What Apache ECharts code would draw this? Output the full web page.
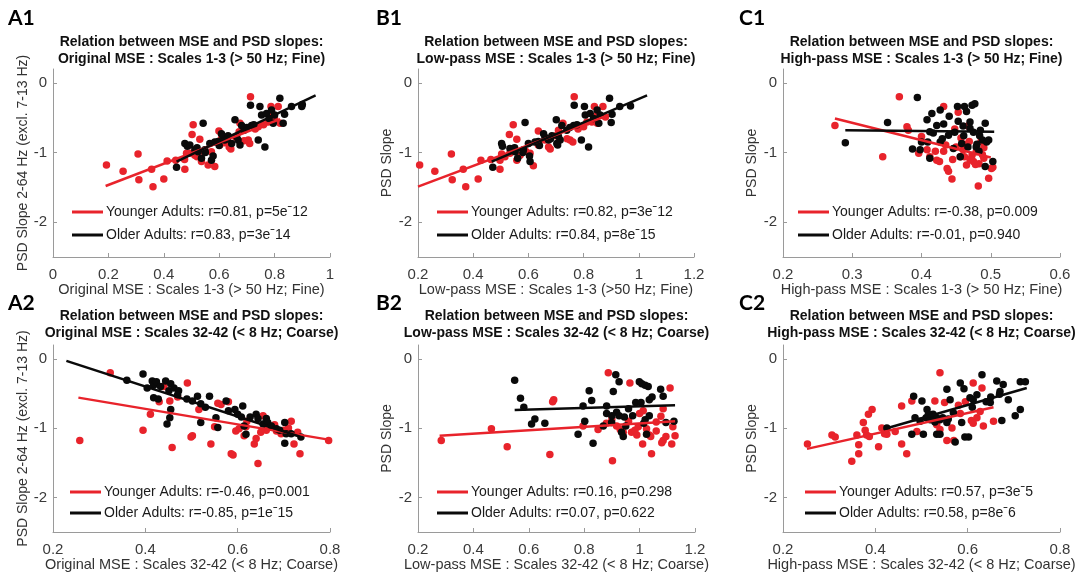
<!DOCTYPE html>
<html>
<head>
<meta charset="utf-8">
<title>MSE vs PSD slopes</title>
<script src="https://cdn.jsdelivr.net/npm/echarts@6/dist/echarts.min.js"></script>
<style>
  html, body { margin: 0; padding: 0; background: #fff; }
  #main { width: 1079px; height: 574px; }
</style>
</head>
<body>
<div id="main"></div>
<script>
// ---- data ----
var yTicks = [-2, -1, 0];
var a1XTicks = [0, 0.2, 0.4, 0.6, 0.8, 1];
var b1XTicks = [0.2, 0.4, 0.6, 0.8, 1, 1.2];
var c1XTicks = [0.2, 0.3, 0.4, 0.5, 0.6];
var a2XTicks = [0.2, 0.4, 0.6, 0.8];
var b2XTicks = [0.2, 0.4, 0.6, 0.8, 1, 1.2];
var c2XTicks = [0.2, 0.4, 0.6, 0.8];

var titles = [
  'Relation between MSE and PSD slopes:\nOriginal MSE : Scales 1-3 (> 50 Hz; Fine)',
  'Relation between MSE and PSD slopes:\nLow-pass MSE : Scales 1-3 (> 50 Hz; Fine)',
  'Relation between MSE and PSD slopes:\nHigh-pass MSE : Scales 1-3 (> 50 Hz; Fine)',
  'Relation between MSE and PSD slopes:\nOriginal MSE : Scales 32-42 (< 8 Hz; Coarse)',
  'Relation between MSE and PSD slopes:\nLow-pass MSE : Scales 32-42 (< 8 Hz; Coarse)',
  'Relation between MSE and PSD slopes:\nHigh-pass MSE : Scales 32-42 (< 8 Hz; Coarse)'
];
var xNames = [
  'Original MSE : Scales 1-3 (> 50 Hz; Fine)',
  'Low-pass MSE : Scales 1-3 (>50 Hz; Fine)',
  'High-pass MSE : Scales 1-3 (> 50 Hz; Fine)',
  'Original MSE : Scales 32-42 (< 8 Hz; Coarse)',
  'Low-pass MSE : Scales 32-42 (< 8 Hz; Coarse)',
  'High-pass MSE : Scales 32-42 (< 8 Hz; Coarse)'
];
var yNames = ['PSD Slope 2-64 Hz (excl. 7-13 Hz)', 'PSD Slope', 'PSD Slope',
  'PSD Slope 2-64 Hz (excl. 7-13 Hz)', 'PSD Slope', 'PSD Slope'];
var panelLabels = ['A1', 'B1', 'C1', 'A2', 'B2', 'C2'];
var youngLegend = [
  'Younger Adults: r=0.81, p=5e\u02C912',
  'Younger Adults: r=0.82, p=3e\u02C912',
  'Younger Adults: r=-0.38, p=0.009',
  'Younger Adults: r=-0.46, p=0.001',
  'Younger Adults: r=0.16, p=0.298',
  'Younger Adults: r=0.57, p=3e\u02C95'
];
var oldLegend = [
  'Older Adults: r=0.83, p=3e\u02C914',
  'Older Adults: r=0.84, p=8e\u02C915',
  'Older Adults: r=-0.01, p=0.940',
  'Older Adults: r=-0.85, p=1e\u02C915',
  'Older Adults: r=0.07, p=0.622',
  'Older Adults: r=0.58, p=8e\u02C96'
];

// A1
var a1Young = [[0.193,-1.18],[0.253,-1.27],[0.307,-1.02],[0.31,-1.39],[0.356,-1.24],[0.361,-1.49],[0.40,-1.38],[0.412,-1.12],[0.443,-1.11],[0.476,-1.24],[0.482,-1.01],[0.506,-0.60],[0.502,-0.74],[0.53,-0.81],[0.494,-1.01],[0.512,-1.04],[0.536,-1.13],[0.545,-0.99],[0.584,-1.20],[0.572,-0.99],[0.599,-0.69],[0.602,-0.89],[0.608,-0.80],[0.642,-0.95],[0.636,-0.92],[0.675,-0.58],[0.672,-0.70],[0.705,-0.82],[0.71,-0.87],[0.713,-0.20],[0.741,-0.63],[0.777,-0.56],[0.787,-0.34],[0.813,-0.34],[0.795,-0.46],[0.82,-0.58],[0.76,-0.60],[0.56,-1.18],[0.62,-0.86],[0.66,-0.78],[0.73,-0.66],[0.80,-0.52],[0.475,-1.10],[0.52,-1.06],[0.69,-0.83]];
var a1Old = [[0.446,-1.21],[0.476,-0.87],[0.485,-0.91],[0.494,-0.89],[0.512,-0.96],[0.524,-0.99],[0.536,-1.08],[0.542,-0.58],[0.548,-0.96],[0.566,-0.87],[0.572,-1.11],[0.578,-1.05],[0.584,-0.85],[0.596,-0.84],[0.608,-0.73],[0.614,-0.78],[0.620,-0.82],[0.632,-0.76],[0.645,-0.87],[0.657,-0.53],[0.663,-0.77],[0.668,-0.82],[0.675,-0.89],[0.681,-0.61],[0.69,-0.68],[0.713,-0.32],[0.717,-0.61],[0.725,-0.60],[0.741,-0.82],[0.747,-0.34],[0.753,-0.46],[0.765,-0.92],[0.771,-0.44],[0.78,-0.51],[0.789,-0.39],[0.795,-0.58],[0.80,-0.46],[0.819,-0.22],[0.831,-0.58],[0.836,-0.45],[0.861,-0.34],[0.898,-0.34],[0.90,-0.31],[0.52,-0.93],[0.60,-0.90],[0.70,-0.64],[0.63,-0.80],[0.55,-1.00]];
var a1YoungFit = [[0.19,-1.48],[0.82,-0.52]];
var a1OldFit = [[0.446,-1.13],[0.948,-0.18]];

// B1
var b1Young = [[0.206,-1.18],[0.261,-1.27],[0.321,-1.02],[0.324,-1.39],[0.364,-1.24],[0.373,-1.49],[0.418,-1.38],[0.428,-1.11],[0.464,-1.10],[0.497,-1.24],[0.503,-1.02],[0.545,-0.60],[0.531,-0.74],[0.558,-0.81],[0.533,-1.01],[0.558,-1.11],[0.570,-1.04],[0.618,-1.19],[0.606,-1.01],[0.636,-0.69],[0.636,-0.89],[0.679,-0.95],[0.673,-0.92],[0.725,-0.58],[0.709,-0.68],[0.751,-0.82],[0.761,-0.85],[0.766,-0.20],[0.800,-0.63],[0.839,-0.34],[0.870,-0.34],[0.849,-0.46],[0.812,-0.56],[0.879,-0.49],[0.497,-1.11],[0.59,-0.98],[0.66,-0.82],[0.70,-0.76],[0.78,-0.66],[0.83,-0.56],[0.515,-1.06],[0.74,-0.80],[0.85,-0.58]];
var b1Old = [[0.471,-1.21],[0.503,-0.87],[0.506,-0.91],[0.533,-0.94],[0.552,-0.99],[0.561,-1.08],[0.588,-0.57],[0.582,-0.96],[0.600,-0.87],[0.606,-1.13],[0.604,-1.05],[0.624,-0.85],[0.636,-0.84],[0.655,-0.73],[0.660,-0.78],[0.673,-0.82],[0.685,-0.76],[0.703,-0.87],[0.701,-0.53],[0.709,-0.77],[0.715,-0.82],[0.706,-0.89],[0.721,-0.61],[0.739,-0.68],[0.766,-0.32],[0.764,-0.61],[0.776,-0.60],[0.792,-0.82],[0.803,-0.34],[0.806,-0.46],[0.818,-0.92],[0.824,-0.44],[0.836,-0.51],[0.849,-0.39],[0.855,-0.58],[0.860,-0.46],[0.894,-0.22],[0.900,-0.57],[0.903,-0.45],[0.931,-0.34],[0.970,-0.33],[0.55,-0.93],[0.64,-0.90],[0.75,-0.64],[0.68,-0.80],[0.58,-1.00]];
var b1YoungFit = [[0.2,-1.49],[0.891,-0.46]];
var b1OldFit = [[0.467,-1.13],[1.03,-0.18]];

// C1
var c1Young = [[0.275,-0.61],[0.368,-0.20],[0.344,-1.06],[0.379,-0.63],[0.381,-0.68],[0.396,-1.01],[0.40,-0.77],[0.408,-0.96],[0.412,-1.06],[0.422,-1.11],[0.426,-1.13],[0.432,-0.34],[0.435,-0.89],[0.432,-0.98],[0.437,-1.23],[0.439,-1.27],[0.444,-1.38],[0.448,-0.66],[0.450,-0.92],[0.453,-0.42],[0.457,-0.79],[0.460,-0.96],[0.462,-1.06],[0.465,-1.18],[0.467,-0.62],[0.469,-0.84],[0.473,-1.04],[0.475,-1.13],[0.479,-0.99],[0.482,-1.48],[0.483,-1.16],[0.486,-0.84],[0.488,-1.03],[0.490,-1.08],[0.497,-1.37],[0.501,-1.23],[0.503,-1.21],[0.456,-1.06],[0.462,-0.88],[0.47,-1.10],[0.49,-0.93],[0.445,-1.10],[0.42,-0.98],[0.478,-1.17]];
var c1Old = [[0.29,-0.86],[0.351,-0.57],[0.394,-0.21],[0.387,-0.95],[0.398,-0.96],[0.40,-0.85],[0.409,-0.85],[0.408,-0.53],[0.412,-1.08],[0.415,-0.44],[0.417,-0.72],[0.422,-0.61],[0.427,-0.39],[0.427,-0.85],[0.432,-0.59],[0.439,-0.75],[0.446,-0.94],[0.448,-0.71],[0.452,-0.34],[0.453,-0.55],[0.458,-0.87],[0.456,-1.06],[0.461,-0.76],[0.462,-0.34],[0.465,-0.41],[0.467,-0.92],[0.470,-0.56],[0.473,-0.32],[0.475,-0.71],[0.477,-0.30],[0.479,-0.92],[0.483,-0.98],[0.484,-0.76],[0.488,-0.82],[0.492,-0.58],[0.494,-0.85],[0.497,-0.82],[0.492,-1.20],[0.503,-1.13],[0.412,-0.70],[0.47,-0.65],[0.44,-0.48],[0.46,-0.62],[0.48,-0.88],[0.43,-0.80],[0.485,-0.68]];
var c1YoungFit = [[0.275,-0.51],[0.50,-1.07]];
var c1OldFit = [[0.29,-0.68],[0.505,-0.70]];

// A2
var a2Young = [[0.258,-1.18],[0.324,-0.20],[0.395,-1.03],[0.411,-0.80],[0.458,-1.28],[0.453,-0.61],[0.491,-0.35],[0.502,-1.11],[0.499,-1.13],[0.542,-1.23],[0.564,-0.66],[0.557,-0.64],[0.516,-0.73],[0.586,-1.37],[0.590,-1.39],[0.596,-1.04],[0.603,-1.01],[0.614,-1.11],[0.618,-0.98],[0.636,-1.23],[0.640,-1.15],[0.644,-1.51],[0.655,-0.82],[0.662,-1.03],[0.665,-0.97],[0.684,-1.04],[0.694,-1.08],[0.700,-1.03],[0.716,-0.90],[0.722,-1.23],[0.730,-1.06],[0.735,-1.37],[0.797,-1.18],[0.47,-0.55],[0.44,-0.40],[0.62,-0.90],[0.58,-0.62],[0.68,-0.95],[0.71,-1.00],[0.55,-0.98],[0.65,-1.06],[0.43,-0.62]];
var a2Old = [[0.36,-0.31],[0.395,-0.22],[0.404,-0.42],[0.415,-0.32],[0.418,-0.38],[0.424,-0.33],[0.418,-0.56],[0.428,-0.58],[0.433,-0.40],[0.444,-0.32],[0.451,-0.46],[0.455,-0.36],[0.462,-0.42],[0.472,-0.46],[0.455,-0.73],[0.453,-0.85],[0.447,-0.94],[0.502,-0.61],[0.513,-0.54],[0.520,-0.65],[0.530,-0.70],[0.539,-0.54],[0.520,-0.92],[0.553,-0.85],[0.557,-0.99],[0.575,-0.61],[0.594,-0.73],[0.600,-0.80],[0.611,-0.68],[0.608,-0.84],[0.614,-0.97],[0.618,-1.09],[0.627,-0.84],[0.640,-0.80],[0.644,-0.86],[0.655,-0.94],[0.662,-0.86],[0.665,-0.92],[0.673,-0.97],[0.684,-1.01],[0.691,-1.03],[0.702,-0.92],[0.705,-1.08],[0.716,-1.08],[0.702,-1.22],[0.737,-1.13],[0.58,-0.75],[0.49,-0.58],[0.47,-0.52]];
var a2YoungFit = [[0.255,-0.56],[0.80,-1.17]];
var a2OldFit = [[0.229,-0.03],[0.742,-1.14]];

// B2
var b2Young = [[0.284,-1.18],[0.465,-1.01],[0.522,-1.27],[0.690,-0.59],[0.686,-0.62],[0.676,-1.38],[0.887,-0.20],[0.902,-1.47],[0.965,-0.35],[0.880,-0.93],[0.917,-0.97],[0.941,-1.06],[0.971,-1.06],[0.983,-1.03],[0.995,-0.98],[1.013,-0.75],[1.025,-1.01],[1.035,-1.10],[1.011,-1.23],[1.043,-1.37],[1.06,-0.91],[1.077,-0.83],[1.085,-1.18],[1.110,-0.42],[1.085,-0.72],[1.116,-1.23],[1.128,-1.11],[0.796,-0.97],[0.90,-0.87],[0.96,-0.90],[1.04,-1.12],[1.08,-1.21],[1.095,-1.12],[0.85,-1.02],[0.99,-1.10],[1.00,-0.79],[1.06,-1.04],[0.93,-1.02],[1.12,-0.98]];
var b2Old = [[0.549,-0.31],[0.570,-0.57],[0.582,-0.70],[0.610,-0.94],[0.622,-0.87],[0.658,-0.93],[0.778,-1.09],[0.802,-0.90],[0.796,-0.68],[0.818,-0.46],[0.827,-0.60],[0.832,-1.22],[0.869,-0.97],[0.881,-0.68],[0.881,-0.79],[0.899,-0.92],[0.905,-0.47],[0.914,-0.23],[0.926,-0.33],[0.917,-0.77],[0.926,-0.82],[0.935,-1.06],[0.941,-1.12],[0.945,-0.84],[0.950,-0.97],[0.975,-0.82],[0.986,-0.63],[0.999,-0.33],[1.008,-0.36],[1.020,-0.38],[1.031,-0.40],[1.015,-0.93],[1.025,-1.09],[1.020,-0.88],[1.035,-0.82],[1.035,-0.59],[1.045,-0.55],[1.076,-0.44],[1.085,-0.54],[1.095,-0.92],[1.124,-0.90],[1.005,-0.63],[0.96,-0.72],[0.90,-0.82]];
var b2YoungFit = [[0.278,-1.11],[1.128,-0.90]];
var b2OldFit = [[0.549,-0.74],[1.128,-0.67]];

// C2
var c2Young = [[0.253,-1.23],[0.306,-1.10],[0.313,-1.13],[0.349,-1.48],[0.364,-1.24],[0.364,-1.37],[0.374,-0.92],[0.378,-1.03],[0.385,-0.80],[0.393,-0.73],[0.381,-1.10],[0.387,-1.12],[0.407,-1.27],[0.414,-1.00],[0.425,-1.09],[0.443,-1.05],[0.457,-1.23],[0.457,-0.68],[0.468,-1.37],[0.479,-0.61],[0.540,-0.20],[0.529,-0.61],[0.533,-0.95],[0.540,-1.02],[0.555,-1.18],[0.566,-1.00],[0.570,-1.18],[0.584,-0.79],[0.612,-0.35],[0.608,-0.89],[0.620,-0.85],[0.631,-0.42],[0.627,-0.76],[0.634,-0.97],[0.612,-0.93],[0.656,-0.90],[0.58,-0.67],[0.595,-0.62],[0.49,-1.05],[0.42,-1.08],[0.36,-1.10],[0.55,-0.63]];
var c2Old = [[0.425,-1.00],[0.479,-1.09],[0.483,-0.54],[0.486,-0.85],[0.501,-0.61],[0.504,-1.09],[0.512,-0.73],[0.510,-0.85],[0.519,-0.88],[0.525,-0.80],[0.529,-0.91],[0.533,-1.09],[0.540,-0.88],[0.546,-0.85],[0.555,-0.44],[0.558,-0.87],[0.562,-0.59],[0.573,-1.20],[0.584,-0.35],[0.587,-0.92],[0.592,-0.43],[0.602,-1.13],[0.605,-0.56],[0.612,-0.59],[0.620,-0.52],[0.631,-0.23],[0.640,-0.62],[0.649,-0.63],[0.663,-0.32],[0.670,-0.47],[0.669,-0.51],[0.674,-0.89],[0.677,-0.37],[0.688,-0.59],[0.703,-0.82],[0.714,-0.73],[0.714,-0.33],[0.725,-0.33],[0.569,-0.78],[0.594,-1.13],[0.497,-0.90],[0.515,-0.80],[0.54,-1.09],[0.533,-0.85],[0.555,-0.92],[0.61,-0.70],[0.65,-0.55]];
var c2YoungFit = [[0.252,-1.30],[0.656,-0.70]];
var c2OldFit = [[0.421,-1.01],[0.728,-0.42]];

// ---- layout ----
var FONT = 'Liberation Sans';
var RED = '#e8232b';
var BLACK = '#0a0a0a';

var youngSets = [a1Young, b1Young, c1Young, a2Young, b2Young, c2Young];
var oldSets = [a1Old, b1Old, c1Old, a2Old, b2Old, c2Old];
var youngFits = [a1YoungFit, b1YoungFit, c1YoungFit, a2YoungFit, b2YoungFit, c2YoungFit];
var oldFits = [a1OldFit, b1OldFit, c1OldFit, a2OldFit, b2OldFit, c2OldFit];
var xTickSets = [a1XTicks, b1XTicks, c1XTicks, a2XTicks, b2XTicks, c2XTicks];

// grid boxes in px: left, top, width, height
var boxes = [
  [53, 69, 277, 188], [418, 69, 276, 188], [783, 69, 277, 188],
  [53, 345, 277, 187], [418, 345, 277, 187], [783, 345, 277, 187]
];
var legendLeft = [67, 432, 793, 65, 432, 800];
var yNameGap = [20, 24, 24, 20, 24, 24];

var myChart = echarts.init(document.getElementById('main'));

var grids = [], xAxes = [], yAxes = [], series = [], legends = [], graphics = [];

for (var i = 0; i < 6; i++) {
  var b = boxes[i];
  var row2 = i >= 3;
  var ticks = xTickSets[i];
  grids.push({ left: b[0], top: b[1], width: b[2], height: b[3], containLabel: false });

  xAxes.push({
    type: 'value', gridIndex: i,
    min: ticks[0], max: ticks[ticks.length - 1],
    name: xNames[i], nameLocation: 'middle', nameGap: row2 ? 23 : 22,
    nameTextStyle: { fontFamily: FONT, fontSize: 14.5, color: '#333' },
    axisLine: { show: true, onZero: false, lineStyle: { color: '#9a9a9a', width: 1 } },
    axisTick: { show: true, inside: true, length: 4, customValues: ticks, lineStyle: { color: '#9a9a9a' } },
    axisLabel: { customValues: ticks, fontFamily: FONT, fontSize: 15, color: '#3a3a3a', margin: 10 },
    splitLine: { show: false }
  });
  yAxes.push({
    type: 'value', gridIndex: i, min: -2.5, max: 0.2,
    name: yNames[i], nameLocation: 'middle', nameGap: yNameGap[i],
    nameTextStyle: { fontFamily: FONT, fontSize: 14, color: '#333' },
    axisLine: { show: true, onZero: false, lineStyle: { color: '#9a9a9a', width: 1 } },
    axisTick: { show: true, inside: true, length: 4, customValues: yTicks, lineStyle: { color: '#9a9a9a' } },
    axisLabel: { customValues: yTicks, fontFamily: FONT, fontSize: 15, color: '#3a3a3a', margin: 6 },
    splitLine: { show: false }
  });

  series.push({
    type: 'scatter', name: 'young' + i, xAxisIndex: i, yAxisIndex: i,
    data: youngSets[i], symbolSize: 7.5, itemStyle: { color: RED, opacity: 1 }, silent: true
  });
  series.push({
    type: 'line', name: youngLegend[i], xAxisIndex: i, yAxisIndex: i,
    data: youngFits[i], symbol: 'none', color: RED,
    lineStyle: { color: RED, width: 2.5 }, silent: true
  });
  series.push({
    type: 'scatter', name: 'old' + i, xAxisIndex: i, yAxisIndex: i,
    data: oldSets[i], symbolSize: 7.5, itemStyle: { color: BLACK, opacity: 1 }, silent: true
  });
  series.push({
    type: 'line', name: oldLegend[i], xAxisIndex: i, yAxisIndex: i,
    data: oldFits[i], symbol: 'none', color: BLACK,
    lineStyle: { color: BLACK, width: 2.5 }, silent: true
  });

  legends.push({
    orient: 'vertical', left: legendLeft[i], top: row2 ? 480 : 200,
    icon: 'rect', itemWidth: 31, itemHeight: 3, itemGap: row2 ? 7 : 9,
    selectedMode: false,
    data: [youngLegend[i], oldLegend[i]],
    textStyle: { fontFamily: FONT, fontSize: 14, color: '#1a1a1a', padding: [0, 0, 0, -2] }
  });

  // two-line bold title above each panel
  graphics.push({
    type: 'text', x: b[0] + b[2] / 2, y: row2 ? 308 : 34,
    style: {
      text: titles[i], textAlign: 'center', textVerticalAlign: 'top',
      font: 'bold 14px "' + FONT + '"', lineHeight: 17, fill: '#111'
    }
  });
  // panel letter
  graphics.push({
    type: 'text', x: [8, 376, 739, 8, 376, 739][i], y: row2 ? 293 : 8,
    style: {
      text: panelLabels[i], textAlign: 'left', textVerticalAlign: 'top',
      font: 'bold 21px Lato', fill: '#000'
    }
  });
}

var option = {
  backgroundColor: '#fff',
  animation: false,
  grid: grids,
  xAxis: xAxes,
  yAxis: yAxes,
  legend: legends,
  graphic: graphics,
  series: series
};
myChart.setOption(option);
</script>
</body>
</html>
